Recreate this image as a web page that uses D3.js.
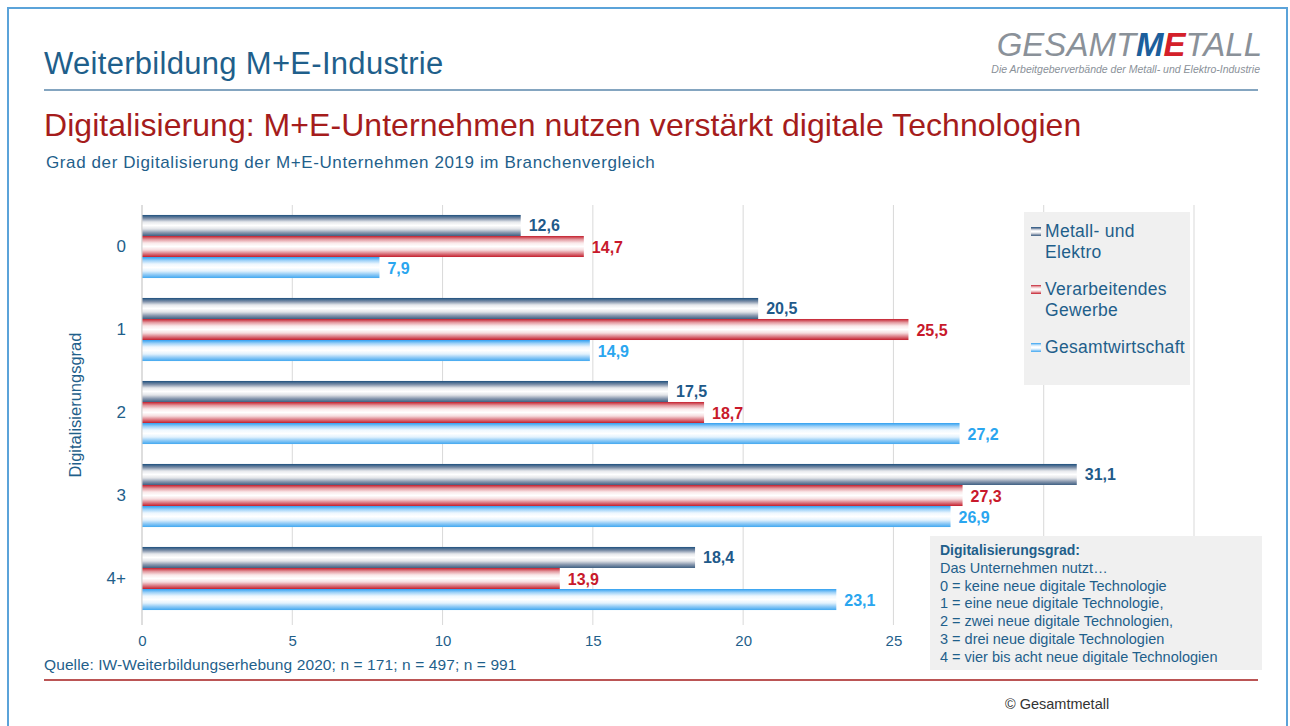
<!DOCTYPE html>
<html>
<head>
<meta charset="utf-8">
<script src="https://cdn.jsdelivr.net/npm/d3@7"></script>
<style>
  body { margin: 0; background: #fff; }
  svg { font-family: "Liberation Sans", Arial, sans-serif; }
</style>
</head>
<body>
<div id="chart"></div>
<script>
// Data
const categories = ['0', '1', '2', '3', '4+'];
const seriesNames = ['Metall- und Elektro', 'Verarbeitendes Gewerbe', 'Gesamtwirtschaft'];
const metallElektro = [12.6, 20.5, 17.5, 31.1, 18.4];
const verarbeitendes = [14.7, 25.5, 18.7, 27.3, 13.9];
const gesamtwirtschaft = [7.9, 14.9, 27.2, 26.9, 23.1];
const xTicks = [0, 5, 10, 15, 20, 25];
const infoLines = [
  'Das Unternehmen nutzt…',
  '0 = keine neue digitale Technologie',
  '1 = eine neue digitale Technologie,',
  '2 = zwei neue digitale Technologien,',
  '3 = drei neue digitale Technologien',
  '4 = vier bis acht neue digitale Technologien'
];

const W = 1290, H = 726;
const blue = '#1f5f8b';
const svg = d3.select('#chart').append('svg').attr('width', W).attr('height', H);

// gradients for bars
const defs = svg.append('defs');
const grads = [
  { id: 'gMe', stops: ['#1d4f7d', '#7d8fa8', '#e6e8ec', '#ffffff', '#e2e4e8', '#8b9ab0', '#3e5f82'], label: '#1f5a8a' },
  { id: 'gVg', stops: ['#c41e2c', '#e39aa0', '#fae9ea', '#ffffff', '#f6dcde', '#dc7d86', '#c41e2c'], label: '#c8192b' },
  { id: 'gGw', stops: ['#2f9ff0', '#9fd2f8', '#eef7fe', '#ffffff', '#e3f2fd', '#8fcaf6', '#42a8f0'], label: '#2aa6ef' }
];
grads.forEach(g => {
  const lg = defs.append('linearGradient').attr('id', g.id)
    .attr('x1', 0).attr('y1', 0).attr('x2', 0).attr('y2', 1);
  g.stops.forEach((c, i) => lg.append('stop')
    .attr('offset', (i / (g.stops.length - 1) * 100) + '%').attr('stop-color', c));
});

// frame
svg.append('rect').attr('x', 8).attr('y', 8).attr('width', 1279).attr('height', 740)
  .attr('fill', 'none').attr('stroke', '#5ba3d9').attr('stroke-width', 2);

// header
svg.append('text').attr('x', 44).attr('y', 74).style('font-size', '31px').style('fill', blue)
  .style('letter-spacing', '0.3px')
  .text('Weiterbildung M+E-Industrie');
svg.append('line').attr('x1', 44).attr('x2', 1258).attr('y1', 90).attr('y2', 90)
  .attr('stroke', '#5b87ab').attr('stroke-width', 1.5);

// logo
const logo = svg.append('text').attr('x', 1262).attr('y', 56).attr('text-anchor', 'end')
  .style('font-size', '33px').style('font-style', 'italic');
logo.append('tspan').style('fill', '#8a9199').text('GESAMT');
logo.append('tspan').style('fill', '#1c5f9c').style('font-weight', 'bold').text('M');
logo.append('tspan').style('fill', '#d4202a').style('font-weight', 'bold').text('E');
logo.append('tspan').style('fill', '#8a9199').text('TALL');
svg.append('text').attr('x', 1260).attr('y', 73).attr('text-anchor', 'end')
  .style('font-size', '10.5px').style('font-style', 'italic').style('fill', '#8a9199')
  .text('Die Arbeitgeberverbände der Metall- und Elektro-Industrie');

svg.append('text').attr('x', 44).attr('y', 136).style('font-size', '32px').style('fill', '#a51c1c')
  .style('letter-spacing', '0.05px')
  .text('Digitalisierung: M+E-Unternehmen nutzen verstärkt digitale Technologien');
svg.append('text').attr('x', 46).attr('y', 168).style('font-size', '17px').style('fill', blue)
  .style('letter-spacing', '0.6px')
  .text('Grad der Digitalisierung der M+E-Unternehmen 2019 im Branchenvergleich');

// chart
const x = d3.scaleLinear().domain([0, 35]).range([142, 1194]);
const y = d3.scaleBand().domain(categories).range([205, 620]).paddingInner(0.24).paddingOuter(0.12);
const ySub = d3.scaleBand().domain(d3.range(3)).range([0, y.bandwidth()]);

const g = svg.append('g');
// gridlines
g.selectAll('.grid').data(d3.range(0, 36, 5)).enter().append('line')
  .attr('x1', d => x(d)).attr('x2', d => x(d)).attr('y1', 205).attr('y2', 625)
  .attr('stroke', '#d9d9d9').attr('stroke-width', 1);

// x axis labels
const xAxis = g.append('g').attr('transform', 'translate(0,625)')
  .call(d3.axisBottom(x).tickValues(xTicks).tickSize(0).tickPadding(10));
xAxis.select('.domain').remove();
xAxis.selectAll('text').style('font-size', '15px').style('fill', blue)
  .style('font-family', '"Liberation Sans", Arial, sans-serif');

// y axis labels
const yAxis = g.append('g').attr('transform', 'translate(126,0)')
  .call(d3.axisLeft(y).tickSize(0).tickPadding(0));
yAxis.select('.domain').remove();
yAxis.selectAll('text').style('font-size', '17px').style('fill', blue)
  .style('font-family', '"Liberation Sans", Arial, sans-serif');

svg.append('text').attr('transform', 'translate(81,405) rotate(-90)').attr('text-anchor', 'middle')
  .style('font-size', '16.5px').style('fill', blue).text('Digitalisierungsgrad');

const series = [metallElektro, verarbeitendes, gesamtwirtschaft];
const fmt = v => d3.format('.1f')(v).replace('.', ',');
series.forEach((vals, si) => {
  const grp = g.append('g');
  grp.selectAll('rect').data(vals).enter().append('rect')
    .attr('x', x(0))
    .attr('y', (d, i) => y(categories[i]) + ySub(si))
    .attr('width', d => x(d) - x(0))
    .attr('height', ySub.bandwidth())
    .attr('fill', `url(#${grads[si].id})`);
  grp.selectAll('text').data(vals).enter().append('text')
    .attr('x', d => x(d) + 8)
    .attr('y', (d, i) => y(categories[i]) + ySub(si) + ySub.bandwidth() / 2 + 6)
    .style('font-size', '16px').style('font-weight', 'bold').style('fill', grads[si].label)
    .text(d => fmt(d));
});
// axis line at zero
g.append('line').attr('x1', x(0)).attr('x2', x(0)).attr('y1', 205).attr('y2', 625)
  .attr('stroke', '#d0d0d0');

// legend
const leg = svg.append('g');
leg.append('rect').attr('x', 1024).attr('y', 212).attr('width', 166).attr('height', 173).attr('fill', '#f0f0f0');
const legLines = [['Metall- und', 'Elektro'], ['Verarbeitendes', 'Gewerbe'], ['Gesamtwirtschaft']];
const legY = [237, 295, 353];
legLines.forEach((lines, i) => {
  leg.append('rect').attr('x', 1031).attr('y', legY[i] - 10).attr('width', 10).attr('height', 9)
    .attr('fill', `url(#${grads[i].id})`);
  lines.forEach((l, j) => leg.append('text').attr('x', 1045).attr('y', legY[i] + j * 21)
    .style('font-size', '17.5px').style('fill', blue).style('letter-spacing', '0.3px').text(l));
});

// info box
const info = svg.append('g');
info.append('rect').attr('x', 930).attr('y', 536).attr('width', 332).attr('height', 134).attr('fill', '#f0f0f0');
info.append('text').attr('x', 940).attr('y', 555).style('font-size', '14px').style('font-weight', 'bold')
  .style('fill', blue).text('Digitalisierungsgrad:');
infoLines.forEach((l, i) => info.append('text').attr('x', 940).attr('y', 573 + i * 17.7)
  .style('font-size', '14.5px').style('fill', blue).text(l));

// footer
svg.append('text').attr('x', 44).attr('y', 670).style('font-size', '15.5px').style('fill', blue)
  .style('letter-spacing', '0.1px')
  .text('Quelle: IW-Weiterbildungserhebung 2020; n = 171; n = 497; n = 991');
svg.append('line').attr('x1', 44).attr('x2', 1258).attr('y1', 680).attr('y2', 680)
  .attr('stroke', '#a51c1c').attr('stroke-width', 1.5);
svg.append('text').attr('x', 1005).attr('y', 709).style('font-size', '14.5px').style('fill', '#333')
  .text('© Gesamtmetall');
</script>
</body>
</html>
